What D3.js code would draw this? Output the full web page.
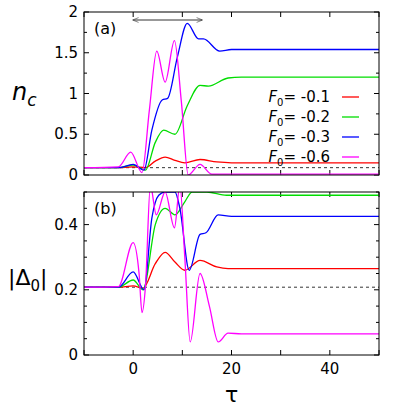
<!DOCTYPE html>
<html><head><meta charset="utf-8">
<script src="https://cdn.jsdelivr.net/npm/d3@7"></script>
<style>body{margin:0;background:#fff}text{font-family:"DejaVu Sans",sans-serif}</style>
</head><body><div id="chart"></div>
<script>
// F0 values and colours
const fields = ['-0.1', '-0.2', '-0.3', '-0.6'];
const colors = ['#ff0000', '#00dd00', '#0000ff', '#ff00ff'];

// panel (a): n_c(tau), points [tau, value]
const ncRed = [[-10,0.09],[-3,0.09],[0,0.1],[2.5,0.09],[4.5,0.17],[6.5,0.22],[8.5,0.18],[10.5,0.15],[13.6,0.19],[17,0.16],[20,0.15],[50,0.15]];
const ncGreen = [[-10,0.09],[-3,0.09],[0,0.12],[2.5,0.06],[4.5,0.4],[6.2,0.55],[8.5,0.5],[11,0.85],[13.6,1.1],[15.3,1.09],[19.3,1.19],[22,1.2],[50,1.2]];
const ncBlue = [[-10,0.09],[-3,0.09],[0,0.13],[2.2,0.06],[3.8,0.55],[5.9,0.92],[7,0.94],[9,1.45],[11,1.86],[13.3,1.67],[14.3,1.67],[17.6,1.52],[20,1.54],[50,1.54]];
const ncMag = [[-10,0.09],[-3,0.1],[-0.5,0.28],[1.8,0.03],[3.3,0.8],[4.8,1.52],[6.5,1.14],[8.4,1.65],[9.8,0.9],[11.2,0],[13.6,0.13],[16,0.01],[50,0.01]];

// panel (b): |Delta_0|(tau)
const dRed = [[-10,0.208],[-3,0.208],[0,0.212],[2,0.205],[4.5,0.28],[6.5,0.315],[8.5,0.285],[10.5,0.26],[13.6,0.29],[17,0.27],[19.3,0.265],[50,0.265]];
const dGreen = [[-10,0.208],[-3,0.208],[0,0.23],[2,0.2],[4.5,0.4],[6.5,0.45],[8.5,0.43],[10.5,0.47],[12,0.5],[15,0.5],[19,0.49],[50,0.49]];
const dBlue = [[-10,0.208],[-3,0.208],[0,0.255],[2.2,0.2],[3.8,0.42],[5.2,0.49],[6.5,0.5],[8.5,0.5],[9.5,0.45],[11.4,0.26],[13.6,0.37],[14.8,0.375],[17.3,0.43],[20,0.425],[50,0.425]];
const dMag = [[-10,0.208],[-3,0.21],[0,0.345],[1.2,0.25],[1.8,0.13],[2.5,0.21],[3.5,0.52],[4.7,0.43],[6.5,0.5],[8.4,0.39],[9.5,0.52],[10.5,0.3],[11.6,0.04],[13.6,0.25],[15.5,0.15],[17.3,0.04],[19.3,0.067],[22,0.065],[50,0.065]];

const ncBase = 0.09, dBase = 0.208;
const xTicks = [-10, 0, 10, 20, 30, 40, 50];
const xLabels = [0, 20, 40];

const svg = d3.select('#chart').append('svg').attr('width', 409).attr('height', 409);
const x = d3.scaleLinear().domain([-10, 50]).range([84, 379]);
const line = y => d3.line().x(d => x(d[0])).y(d => y(d[1])).curve(d3.curveMonotoneX);

function panel(id, top, bottom, ymax, series, base, ticks, labels, minor, tag) {
    const y = d3.scaleLinear().domain([0, ymax]).range([bottom, top]);
    svg.append('clipPath').attr('id', id).append('rect')
        .attr('x', 84).attr('y', top).attr('width', 295).attr('height', bottom - top);
    const g = svg.append('g');
    // inward ticks on all four sides
    xTicks.forEach(t => {
        g.append('line').attr('x1', x(t)).attr('x2', x(t)).attr('y1', bottom).attr('y2', bottom - 5).attr('stroke', '#000');
        g.append('line').attr('x1', x(t)).attr('x2', x(t)).attr('y1', top).attr('y2', top + 5).attr('stroke', '#000');
    });
    minor.forEach(t => {
        const len = ticks.some(v => Math.abs(v - t) < 1e-9) ? 5 : 3;
        g.append('line').attr('x1', 84).attr('x2', 84 + len).attr('y1', y(t)).attr('y2', y(t)).attr('stroke', '#000');
        g.append('line').attr('x1', 379).attr('x2', 379 - len).attr('y1', y(t)).attr('y2', y(t)).attr('stroke', '#000');
    });
    labels.forEach(t => g.append('text').attr('x', 78).attr('y', y(t) + 5).attr('text-anchor', 'end')
        .attr('font-size', 15).text(t));
    g.append('line').attr('x1', 84).attr('x2', 379).attr('y1', y(base)).attr('y2', y(base))
        .attr('stroke', '#000').attr('stroke-width', 0.8).attr('stroke-dasharray', '3,3');
    series.forEach((s, i) => g.append('path').datum(s).attr('d', line(y)).attr('fill', 'none')
        .attr('stroke', colors[i]).attr('stroke-width', 1.3).attr('clip-path', `url(#${id})`));
    g.append('rect').attr('x', 84).attr('y', top).attr('width', 295).attr('height', bottom - top)
        .attr('fill', 'none').attr('stroke', '#000');
    g.append('text').attr('x', 94).attr('y', top + 22).attr('font-family', 'DejaVu Serif')
        .attr('font-size', 16).text(tag);
    return y;
}

panel('ca', 12, 175, 2, [ncRed, ncGreen, ncBlue, ncMag], ncBase,
    [0, 0.5, 1, 1.5, 2], [0, 0.5, 1, 1.5, 2], d3.range(0, 2.01, 0.25), '(a)');
panel('cb', 192, 355, 0.5, [dRed, dGreen, dBlue, dMag], dBase,
    [0, 0.2, 0.4], [0, 0.2, 0.4], d3.range(0, 0.501, 0.05), '(b)');

xLabels.forEach(t => svg.append('text').attr('x', x(t)).attr('y', 374).attr('text-anchor', 'middle')
    .attr('font-size', 15).text(t));
svg.append('text').attr('x', x(20)).attr('y', 402).attr('text-anchor', 'middle')
    .attr('font-family', 'DejaVu Serif').attr('font-size', 22).text('τ');

// y labels
const yl = svg.append('text').attr('x', 12).attr('y', 100).attr('font-family', 'DejaVu Serif')
    .attr('font-size', 24).attr('font-style', 'italic');
yl.append('tspan').text('n');
yl.append('tspan').attr('font-size', 17).attr('dy', 6).text('c');
const dl = svg.append('text').attr('x', 8).attr('y', 285).attr('font-family', 'DejaVu Sans').attr('font-size', 22);
dl.append('tspan').text('|Δ');
dl.append('tspan').attr('font-size', 15).attr('dy', 6).text('0');
dl.append('tspan').attr('dy', -6).text('|');

// legend
fields.forEach((f, i) => {
    const yy = 97 + i * 20;
    const t = svg.append('text').attr('x', 330).attr('y', yy + 5).attr('text-anchor', 'end').attr('font-size', 15);
    t.append('tspan').attr('font-style', 'italic').text('F');
    t.append('tspan').attr('font-size', 10).attr('dy', 4).text('0');
    t.append('tspan').attr('dy', -4).text('= ' + f);
    svg.append('line').attr('x1', 342).attr('x2', 359).attr('y1', yy).attr('y2', yy)
        .attr('stroke', colors[i]).attr('stroke-width', 1.3);
});

// double arrow across the driving window
const defs = svg.append('defs');
defs.append('marker').attr('id', 'ah').attr('viewBox', '0 0 10 10').attr('refX', 9).attr('refY', 5)
    .attr('markerWidth', 8).attr('markerHeight', 6).attr('orient', 'auto-start-reverse')
    .append('path').attr('d', 'M0,1 L10,5 L0,9').attr('fill', 'none').attr('stroke', '#333');
svg.append('line').attr('x1', x(0)).attr('x2', x(14)).attr('y1', 20).attr('y2', 20)
    .attr('stroke', '#333').attr('marker-start', 'url(#ah)').attr('marker-end', 'url(#ah)');
</script></body></html>
